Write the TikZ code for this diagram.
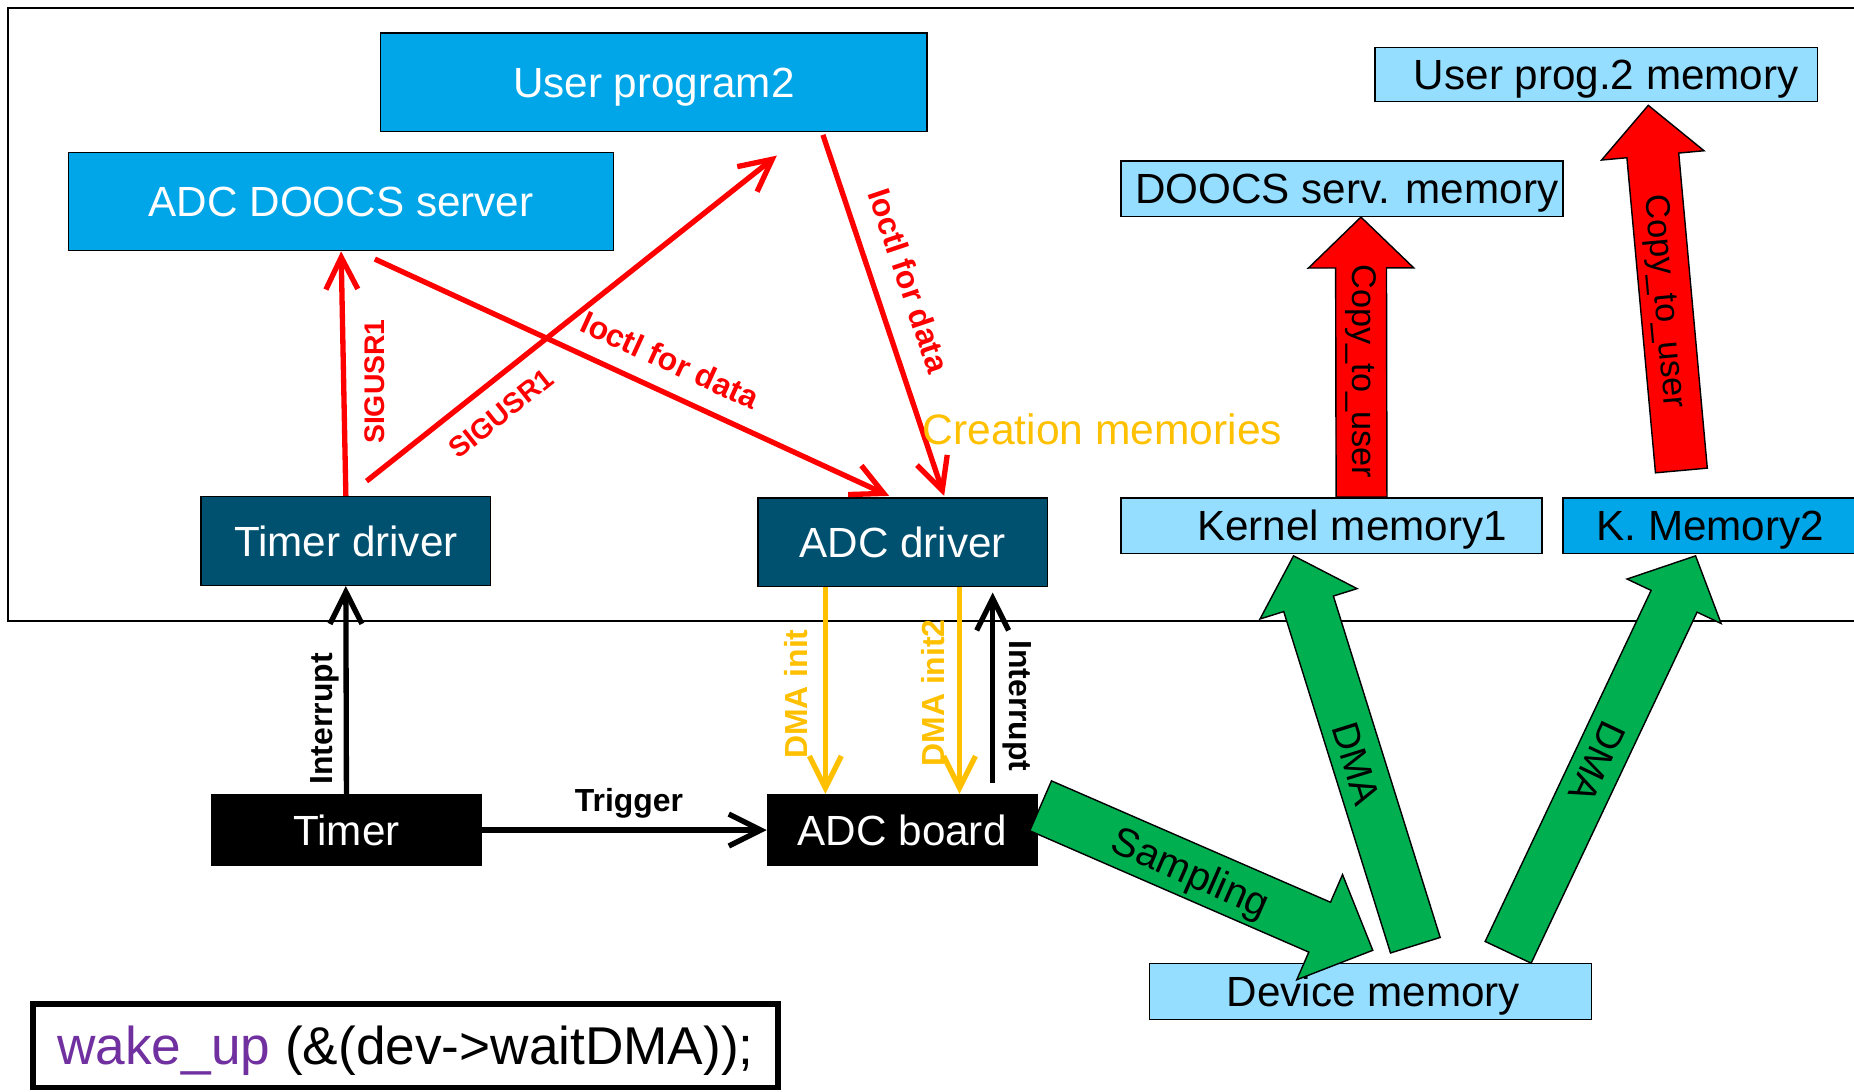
\documentclass[tikz,border=0pt]{standalone}
\usepackage{fontspec}
\setmainfont{Liberation Sans}
\usetikzlibrary{arrows.meta,calc}
\definecolor{midblue}{RGB}{0,166,232}
\definecolor{darkteal}{RGB}{0,80,112}
\definecolor{lightblue}{RGB}{150,222,255}
\definecolor{pptgreen}{RGB}{0,176,80}
\definecolor{pptorange}{RGB}{255,192,0}
\definecolor{pptpurple}{RGB}{112,48,160}
\newcommand{\bigfont}{\fontsize{35.7pt}{40pt}\selectfont}
\newcommand{\lblfont}{\fontsize{27pt}{30pt}\selectfont\bfseries}
\newcommand{\blockarr}[6]{%
  \path (#1) coordinate (bkA) (#2) coordinate (bkB);
  \path ($(bkB)!#5!(bkA)$) coordinate (bkH);
  \filldraw[fill=#6, draw=black, line width=1.2pt, line join=miter]
    ($(bkA)!#3!90:(bkB)$) -- ($(bkH)!#3!90:(bkB)$) -- ($(bkH)!#4!90:(bkB)$) -- (bkB)
    -- ($(bkH)!#4!-90:(bkB)$) -- ($(bkH)!#3!-90:(bkB)$) -- ($(bkA)!#3!-90:(bkB)$) -- cycle;
}
\begin{document}
\begin{tikzpicture}[x=1pt,y=-1pt,
  box/.style={draw=black, line width=1.2pt, inner sep=0pt, font=\bigfont, text height=26pt, text depth=0pt},
  userbox/.style={box, fill=midblue, text=white},
  drvbox/.style={box, fill=darkteal, text=white},
  hwbox/.style={box, fill=black, text=white},
  membox/.style={box, fill=lightblue, text=black},
  thinarr/.style={line width=4.5pt, -{Straight Barb[length=27pt,width=27pt]}},
  redarr/.style={thinarr, draw=red},
  blackarr/.style={thinarr, draw=black},
  orangearr/.style={thinarr, draw=pptorange},
  lbl/.style={font=\lblfont, inner sep=0pt},
  arrtext/.style={inner sep=0pt, text=black},
]
\useasboundingbox (0,0) rectangle (1568,923);
\fill[white] (0,0) rectangle (1568,923);

% frame
\draw[line width=1.5pt] (1570,7) -- (7,7) -- (7,525) -- (1570,525);

% boxes
\node[userbox, minimum width=462pt, minimum height=83pt] (up2) at (553,69.5) {User program2};
\node[userbox, minimum width=461pt, minimum height=83pt] (doocs) at (288.5,170.5) {ADC DOOCS server};
\node[drvbox, minimum width=245pt, minimum height=75pt] (tdrv) at (292.5,457.5) {Timer driver};
\node[drvbox, minimum width=245pt, minimum height=75pt] (adrv) at (763.5,458.5) {ADC driver};
\node[hwbox, minimum width=228pt, minimum height=60pt] (timer) at (293,702) {Timer};
\node[hwbox, minimum width=228pt, minimum height=60pt] (board) at (763,702) {ADC board};
\node[membox, minimum width=374pt, minimum height=47pt] (dsmem) at (1135,159.5) {\hspace*{8pt}DOOCS serv. memory};
\node[membox, minimum width=374pt, minimum height=46pt] (upmem) at (1350,63) {\hspace*{17pt}User prog.2 memory};
\node[membox, minimum width=356pt, minimum height=47pt] (km1) at (1126,444.5) {\hspace*{35pt}Kernel memory1};
\node[box, fill=midblue, text=black, minimum width=249pt, minimum height=47pt] (km2) at (1446.5,444.5) {K. Memory2};
\node[membox, minimum width=374pt, minimum height=47pt] (devmem) at (1159,838.5) {\hspace*{5pt}Device memory};
\node[draw=black, line width=4.5pt, minimum width=630pt, minimum height=71pt, inner sep=0pt,
      text height=32pt, text depth=0pt,
      font=\fontsize{45pt}{50pt}\selectfont] (wake) at (343,884.5)
      {\textcolor{pptpurple}{wake\_up} (\&(dev->waitDMA));};

% red signal arrows
\draw[redarr] (tdrv.north) -- (doocs.south);
\coordinate (s1a) at ($(tdrv.north)+(17.5,-12.5)$);
\coordinate (s1b) at ($(up2.south)+(104,20)$);
\draw[redarr] (s1a) -- (s1b);
\coordinate (i1a) at ($(doocs.south)+(28.5,6.5)$);
\coordinate (i1b) at ($(adrv.north)+(-11.5,-1)$);
\draw[redarr] (i1a) -- (i1b);
\coordinate (i2a) at ($(up2.south)+(143,2.5)$);
\coordinate (i2b) at ($(adrv.north)+(35,-1)$);
\draw[redarr] (i2a) -- (i2b);

% black and orange arrows
\draw[blackarr] (timer.north) -- (tdrv.south);
\coordinate (ir1) at ($(board.north)+(76.5,-9)$);
\coordinate (ir2) at ($(adrv.south)+(76,4.5)$);
\draw[blackarr] (ir1) -- (ir2);
\draw[blackarr] (timer.east) -- (board.west);
\draw[orangearr] ($(adrv.south)+(-65.5,0)$) coordinate (d1a) -- ($(board.north)+(-65,0)$) coordinate (d1b);
\draw[orangearr] ($(adrv.south)+(48,0)$) coordinate (d2a) -- ($(board.north)+(48.5,0)$) coordinate (d2b);

% labels
\node[lbl, font=\fontsize{24pt}{27pt}\selectfont\bfseries, red, rotate=90] at (317,322.7) {SIGUSR1};
\node[lbl, font=\fontsize{24pt}{27pt}\selectfont\bfseries, red, rotate=38.5] at (424,349.6) {SIGUSR1};
\node[lbl, red, rotate=-24.6] at (566.5,304.5) {Ioctl for data};
\node[lbl, red, rotate=-71.4] at (768.8,237.2) {Ioctl for data};
\node[lbl, rotate=90] at (274.5,608) {Interrupt};
\node[lbl, rotate=-90] at (860,597) {Interrupt};
\node[lbl, pptorange, rotate=90] at (673,587) {DMA init};
\node[lbl, pptorange, rotate=90] at (789,586) {DMA init2};
\node[lbl] at (532,679) {Trigger};
\node[font=\fontsize{36pt}{40pt}\selectfont, text=pptorange, anchor=west, inner sep=0pt] at (780,363) {Creation memories};

% block arrows
\coordinate (c1t) at ($(km1.north)+(25.5,0)$);
\coordinate (c1h) at ($(dsmem.south)+(16,0)$);
\blockarr{c1t}{c1h}{21.5pt}{44.5pt}{43pt}{red}
\coordinate (c2t) at ($(km1.north -| km2.north)+(-24.5,-22.5)$);
\coordinate (c2h) at ($(upmem.south)+(44,2.5)$);
\blockarr{c2t}{c2h}{22pt}{43.5pt}{42.5pt}{red}
\coordinate (g1t) at ($(devmem.north)+(38,-15)$);
\coordinate (g1h) at ($(km1.south)+(-32,1.5)$);
\blockarr{g1t}{g1h}{22pt}{43pt}{42.5pt}{pptgreen}
\coordinate (g2t) at ($(devmem.north)+(116.5,-9)$);
\coordinate (g2h) at ($(km2.south)+(-12.5,1.5)$);
\blockarr{g2t}{g2h}{21.5pt}{44pt}{42.5pt}{pptgreen}
\coordinate (smt) at ($(board.east)+(2.5,-20.5)$);
\coordinate (smh) at ($(devmem.north)+(2,-10.7)$);
\blockarr{smt}{smh}{23pt}{48.5pt}{49pt}{pptgreen}

\node[arrtext, font=\fontsize{29pt}{32pt}\selectfont, rotate=-90] at (1151,314) {Copy\_to\_user};
\node[arrtext, font=\fontsize{29pt}{32pt}\selectfont, rotate=-84.8] at (1407,255) {Copy\_to\_user};
\node[arrtext, font=\fontsize{32pt}{35pt}\selectfont, rotate=-72.7] at (1147,646) {DMA};
\node[arrtext, font=\fontsize{32pt}{35pt}\selectfont, rotate=-115.3] at (1351,644.5) {DMA};
\node[arrtext, font=\fontsize{34pt}{37pt}\selectfont, rotate=-23.6] at (1006,740) {Sampling};
\end{tikzpicture}
\end{document}
